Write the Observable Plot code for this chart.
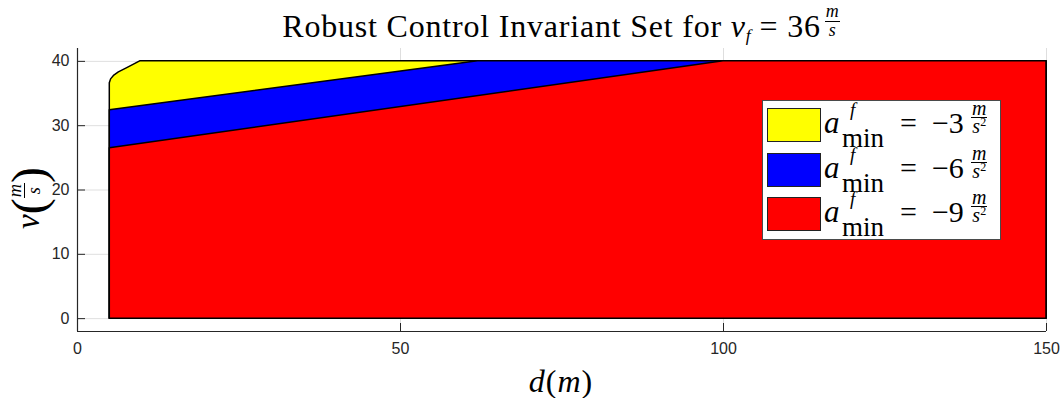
<!DOCTYPE html>
<html>
<head>
<meta charset="utf-8">
<script src="https://cdn.jsdelivr.net/npm/d3@7"></script>
<script src="https://cdn.jsdelivr.net/npm/@observablehq/plot@0.6"></script>
<style>
  html, body { margin: 0; padding: 0; background: #fff; }
  #wrap { position: relative; width: 1064px; height: 398px; overflow: hidden; }
  #wrap svg { position: absolute; left: 0; top: 0; }
  .t { position: absolute; white-space: nowrap; line-height: 1; font-family: "Liberation Serif", "DejaVu Serif", serif; color: #000; }
  .i { font-style: italic; }
  .frac { display: inline-block; text-align: center; line-height: 1; letter-spacing: 0; }
  .frac > span { display: block; padding: 0 1px; }
  .frac > span.num { border-bottom: 1px solid #000; }
  .lf > span { line-height: 0.85; }
</style>
</head>
<body>
<div id="wrap"></div>
<script>
// ---- data ----
const xTicks = [0, 50, 100, 150];
const yTicks = [0, 10, 20, 30, 40];

// boundary of each set (distance d in m, speed v in m/s)
const yellowD = [5, 5.2, 5.7, 6.4, 7.7, 9.7, 150];
const yellowV = [36.6, 37.2, 37.8, 38.3, 38.95, 40, 40];
const blueD = [5, 62, 150];
const blueV = [32.4, 40, 40];
const redD = [5, 100, 150];
const redV = [26.5, 40, 40];

const legendValues = ["−3", "−6", "−9"];
const seriesColors = ["#ffff00", "#0000ff", "#ff0000"];

const rows = (d, v) => d.map((x, i) => ({d: x, v: v[i], base: 0}));
const sets = [rows(yellowD, yellowV), rows(blueD, blueV), rows(redD, redV)];

const ink = "#262626";
const chart = Plot.plot({
  width: 1064,
  height: 398,
  marginLeft: 77,
  marginRight: 18,
  marginTop: 48,
  marginBottom: 67,
  style: {fontFamily: "'Liberation Sans', Arial, sans-serif", fontSize: "16px", color: ink, background: "transparent"},
  x: {domain: [0, 150], label: null},
  y: {domain: [-2, 42], label: null},
  marks: [
    Plot.gridX(xTicks, {stroke: "#000", strokeOpacity: 0.13}),
    Plot.gridY(yTicks, {stroke: "#000", strokeOpacity: 0.13}),
    ...sets.map((s, i) => Plot.areaY(s, {x: "d", y1: "base", y2: "v", fill: seriesColors[i], stroke: "#000", strokeWidth: 1.5, curve: "linear"})),
    Plot.ruleX([0], {stroke: ink, strokeWidth: 1.2}),
    Plot.ruleY([-2], {stroke: ink, strokeWidth: 1.2}),
    Plot.axisX(xTicks, {tickSize: -8, tickPadding: 19, stroke: ink, fill: ink, fontSize: 16, label: null}),
    Plot.axisY(yTicks, {tickSize: -8, tickPadding: 16, stroke: ink, fill: ink, fontSize: 16, label: null})
  ]
});
const wrap = document.getElementById("wrap");
wrap.appendChild(chart);

// helper: place text so that its baseline lands at y (measured)
function place(html, x, baseline, size, extra = "") {
  const el = document.createElement("div");
  el.className = "t";
  el.style.fontSize = size + "px";
  el.style.left = x + "px";
  el.style.top = "0px";
  el.style.cssText += extra;
  el.innerHTML = html;
  const mk = document.createElement("span");
  mk.style.cssText = "display:inline-block;width:0;height:0;vertical-align:baseline;";
  el.appendChild(mk);
  wrap.appendChild(el);
  const b = mk.getBoundingClientRect().bottom - wrap.getBoundingClientRect().top;
  el.style.top = (baseline - b) + "px";
  return el;
}

// title
place(
  'Robust Control Invariant Set for <span class="i">v</span><span class="i" style="font-size:0.55em;vertical-align:-0.22em;letter-spacing:0">f</span> = 36<span style="display:inline-block;width:4px"></span><span class="frac" style="font-size:0.56em;vertical-align:1px"><span class="num i">m</span><span class="i">s</span></span>',
  0, 37, 32, "width:1064px;text-align:center;padding-left:58px;box-sizing:border-box;letter-spacing:0.8px;");

// x label
place('<span class="i">d</span>(<span class="i">m</span>)', 0, 392, 32, "width:1064px;text-align:center;padding-left:58px;box-sizing:border-box;letter-spacing:1px;");

// y label (rotated)
const yl = document.createElement("div");
yl.className = "t";
yl.style.cssText += "left:29px;top:198px;font-size:33px;transform:translate(-50%,-50%) rotate(-90deg);";
yl.innerHTML = '<span class="i">v</span><span style="font-size:48px;vertical-align:-0.12em">(</span><span class="frac" style="font-size:0.56em;vertical-align:-0.05em"><span class="num i">m</span><span class="i">s</span></span><span style="font-size:48px;vertical-align:-0.12em">)</span>';
wrap.appendChild(yl);

// legend
const box = document.createElement("div");
box.style.cssText = "position:absolute;left:762px;top:100px;width:239px;height:140px;background:#fff;border:1px solid #4a4a4a;box-sizing:border-box;";
wrap.appendChild(box);
const rowTops = [108, 153, 197];
legendValues.forEach((val, i) => {
  const T = rowTops[i];
  const sw = document.createElement("div");
  sw.style.cssText = `position:absolute;left:767px;top:${T}px;width:54px;height:34px;background:${seriesColors[i]};border:1.5px solid #222;box-sizing:border-box;`;
  wrap.appendChild(sw);
  place('a', 824, T + 25, 31, "font-style:italic;");
  place('<span style="display:inline-block;line-height:1"><span style="display:block;font-size:19px;font-style:italic;padding-left:8px;margin-bottom:6px">f</span><span style="display:block;font-size:27px">min</span></span>',
        842, T + 39, 27);
  place('=&nbsp;&nbsp;' + val, 900, T + 25, 30, "word-spacing:0;");
  place('<span class="frac lf"><span class="num i">m</span><span class="i">s<span style="font-size:0.6em;vertical-align:0.55em;line-height:0;font-style:normal">2</span></span></span>',
        971, T + 25, 20);
});
</script>
</body>
</html>
